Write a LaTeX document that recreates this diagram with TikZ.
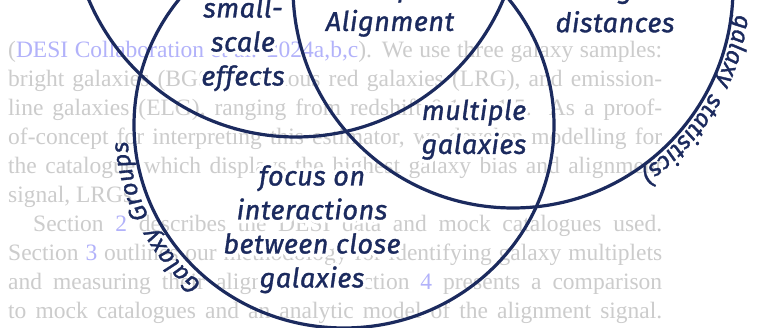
\documentclass[tikz,border=0pt]{standalone}
\usepackage{fontspec}
\usepackage{xcolor}
\usepackage{tikz}
\usepackage{contour}
\usetikzlibrary{positioning, decorations.text}
\setmainfont{Liberation Serif}
\newfontfamily\handfont{Fira Sans}[LetterSpace=2, FakeBold=1.2]
\newfontfamily\arcfont{Fira Sans}[LetterSpace=18, FakeBold=1.4]
\definecolor{navy}{HTML}{1B2A5E}
\definecolor{paper}{gray}{0.80}
\definecolor{linkblue}{RGB}{178,178,250}
\contourlength{3.5pt}
\contournumber{24}
\tikzstyle{ring}=[draw=navy, line width=3.2pt]
\newcommand{\hl}[1]{\contour{white}{#1}}
\newcommand{\curvefont}{\arcfont\itshape\fontsize{24}{24}\selectfont}

\begin{document}
\begin{tikzpicture}[x=1pt, y=1pt,
  txt/.style={anchor=base west, inner sep=0pt, text=paper,
              font=\fontsize{23.5}{29}\selectfont},
  hand/.style={align=center, text=navy, inner sep=0pt,
               font=\fontsize{27}{34}\selectfont\handfont\itshape},
  arcword/.style={decorate, decoration={text along path, text align=center,
                  raise=4pt, text color=navy}}
]
\useasboundingbox (0,0) rectangle (763,-328);
\fill[white] (0,0) rectangle (763,-328);

% page text behind the sketch
\node[txt] (l1) at (8,-58) {\makebox[654pt][s]{(\textcolor{linkblue}{DESI Collaboration et al. 2024a,b,c}). We use three galaxy samples:}};
\node[txt] (l2) at (8,-87) {\makebox[654pt][s]{bright galaxies (BGS), luminous red galaxies (LRG), and emission-}};
\node[txt] (l3) at (8,-116) {\makebox[654pt][s]{line galaxies (ELG), ranging from redshift 0.1 to 1.5. As a proof-}};
\node[txt] (l4) at (8,-145) {\makebox[654pt][s]{of-concept for interpreting this estimator, we develop modelling for}};
\node[txt] (l5) at (8,-174) {\makebox[654pt][s]{the catalogue which displays the highest galaxy bias and alignment}};
\node[txt] (l6) at (8,-203) {signal, LRGs.};
\node[txt] (l7) at (33,-232) {\makebox[629pt][s]{Section \textcolor{linkblue}{2} describes the DESI data and mock catalogues used.}};
\node[txt] (l8) at (8,-261) {\makebox[654pt][s]{Section \textcolor{linkblue}{3} outlines our methodology for identifying galaxy multiplets}};
\node[txt] (l9) at (8,-290) {\makebox[654pt][s]{and measuring their alignment. Section \textcolor{linkblue}{4} presents a comparison}};
\node[txt] (l10) at (8,-319) {\makebox[654pt][s]{to mock catalogues and an analytic model of the alignment signal.}};

% the three sets
\coordinate (cT) at (296,88);
\coordinate (cL) at (344,-125);
\coordinate (cR) at (513,12);
\draw[ring] (cT) circle[radius=225];
\draw[ring] (cL) ellipse[x radius=210, y radius=203];
\draw[ring] (cR) circle[radius=220];

\path[arcword, decoration={text={|\curvefont|Galaxy Groups}, raise=7pt}]
  (cL) ++(248:210 and 203) arc[start angle=248, end angle=165, x radius=210, y radius=203];
\path[arcword, decoration={text={|\curvefont|galaxy statistics)}}]
  (cR) ++(8:220) arc[start angle=8, end angle=-70, radius=220];

\node[hand] (small) at (243,-46) {\hl{small-}\\\hl{scale}\\\hl{effects}};
\node[hand] (align) at (390,-8) {\hl{Multiplet}\\\hl{Alignment}};
\node[hand] (far) at (615,-7) {\hl{large}\\\hl{distances}};
\node[hand] (multi) at (474,-131) {\hl{multiple}\\\hl{galaxies}};
\node[hand] (close) at (312,-231) {\hl{focus on}\\\hl{interactions}\\\hl{between close}\\\hl{galaxies}};
\end{tikzpicture}
\end{document}
